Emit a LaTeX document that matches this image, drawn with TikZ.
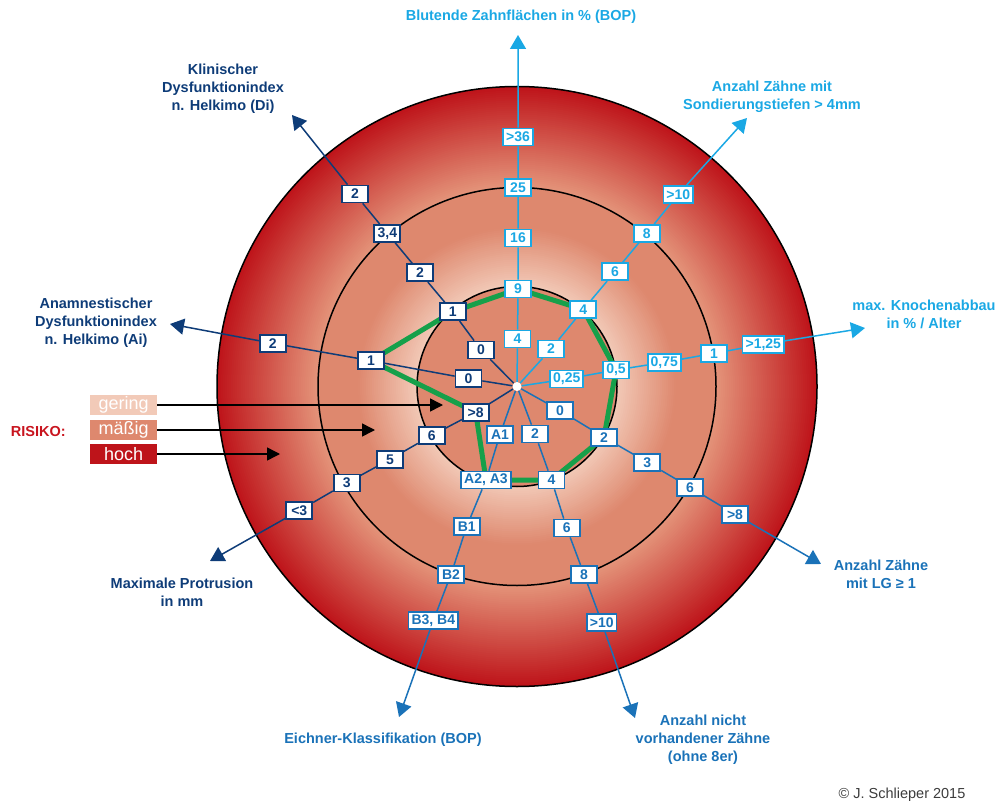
\documentclass[tikz,border=0pt]{standalone}
\usepackage{fontspec}
\setmainfont{Liberation Sans}
\usetikzlibrary{arrows.meta}
\definecolor{navy}{RGB}{14,60,120}
\definecolor{midblue}{RGB}{26,114,184}
\definecolor{cyanblue}{RGB}{26,168,228}
\definecolor{darkred}{RGB}{190,20,26}
\definecolor{salmon}{RGB}{222,136,110}
\definecolor{ringlight}{RGB}{228,148,122}
\definecolor{palepink}{RGB}{242,202,184}
\definecolor{riskgreen}{RGB}{22,160,74}
\definecolor{riskred}{RGB}{200,20,30}
\definecolor{copygray}{RGB}{60,60,60}
\pgfdeclarelayer{rings}
\pgfdeclarelayer{poly}
\pgfsetlayers{rings,poly,main}

\begin{document}
\begin{tikzpicture}[x=1pt,y=-1pt,
	box/.style={draw=#1,text=#1,fill=white,line width=1.7pt,font=\fontsize{14}{14}\selectfont\bfseries,minimum width=26pt,minimum height=17pt,inner xsep=3pt,inner ysep=1pt},
	axis/.style={draw=#1,line width=1.5pt,-{Triangle[length=14pt,width=16pt]}},
	title/.style={text=#1,font=\fontsize{14.5}{17.8}\selectfont\bfseries,align=center},
	risk/.style={fill=#1,text=white,font=\fontsize{18}{18}\selectfont,minimum width=67pt,minimum height=19.5pt,inner sep=0pt},
	riskarrow/.style={line width=1.5pt,-{Triangle[length=13pt,width=13pt]}}]
	\useasboundingbox (0,0) rectangle (1000,802);
	\coordinate (o) at (517,386.5);
	\begin{pgfonlayer}{rings}
		\foreach \r in {300,298,...,200}{
			\pgfmathtruncatemacro\p{\r-200}
			\fill[darkred!\p!ringlight] (o) circle[radius=\r pt];
		}
		\foreach \r in {199,197,...,101}{
			\pgfmathtruncatemacro\p{max(0,(160-\r)*5/3)}
			\fill[palepink!\p!salmon] (o) circle[radius=\r pt];
		}
		\fill[salmon] (o) circle[radius=100pt];
		\draw[line width=1.5pt] (o) circle[radius=300pt] (o) circle[radius=199pt] (o) circle[radius=100pt];
	\end{pgfonlayer}
	\node[circle,fill=white,inner sep=0pt,minimum size=9pt] (dot) at (o) {};

	% Blutende Zahnflaechen
	\node[box=cyanblue] (bop1) at (517.5,339) {4};
	\node[box=cyanblue] (bop2) at (518,289) {9};
	\node[box=cyanblue] (bop3) at (518,238) {16};
	\node[box=cyanblue] (bop4) at (518,187.5) {25};
	\node[box=cyanblue] (bop5) at (518,137) {>36};
	\coordinate (bopTip) at (518,35);
	\node[title=cyanblue] (bopT) at (521,17) {Blutende Zahnflächen in \% (BOP)};
	% Sondierungstiefen
	\node[box=cyanblue] (st1) at (551,349) {2};
	\node[box=cyanblue] (st2) at (583.3,309.5) {4};
	\node[box=cyanblue] (st3) at (615,271.7) {6};
	\node[box=cyanblue] (st4) at (646.7,233.3) {8};
	\node[box=cyanblue] (st5) at (678.3,194.3) {>10};
	\coordinate (stTip) at (747,118);
	\node[title=cyanblue] (stT) at (772,97) {Anzahl Zähne mit\\Sondierungstiefen > 4mm};
	% Knochenabbau
	\node[box=cyanblue] (ka1) at (566.7,379) {0,25};
	\node[box=cyanblue] (ka2) at (616,370) {0,5};
	\node[box=cyanblue] (ka3) at (664.3,362.3) {0,75};
	\node[box=cyanblue] (ka4) at (714,353.3) {1};
	\node[box=cyanblue] (ka5) at (763.3,344.3) {>1,25};
	\coordinate (kaTip) at (865,328);
	\node[title=cyanblue] (kaT) at (924,314) {max. Knochenabbau\\in \% / Alter};
	% Zaehne mit LG
	\node[box=midblue] (lg1) at (560,410.5) {0};
	\node[box=midblue] (lg2) at (604,437.3) {2};
	\node[box=midblue] (lg3) at (647.3,462.3) {3};
	\node[box=midblue] (lg4) at (690,487.3) {6};
	\node[box=midblue] (lg5) at (735,514.3) {>8};
	\coordinate (lgTip) at (821,564);
	\node[title=midblue] (lgT) at (881,574.5) {Anzahl Zähne\\mit LG ≥ 1};
	% nicht vorhandene Zaehne
	\node[box=midblue] (nv1) at (535,434) {2};
	\node[box=midblue] (nv2) at (551.5,480) {4};
	\node[box=midblue] (nv3) at (566.7,528) {6};
	\node[box=midblue] (nv4) at (584,574.3) {8};
	\node[box=midblue] (nv5) at (601.7,622.3) {>10};
	\coordinate (nvTip) at (635,718);
	\node[title=midblue] (nvT) at (703,739.5) {Anzahl nicht\\vorhandener Zähne\\(ohne 8er)};
	% Eichner
	\node[box=midblue] (ek1) at (500,434.5) {A1};
	\node[box=midblue] (ek2) at (486,480) {A2, A3};
	\node[box=midblue] (ek3) at (466.7,526.5) {B1};
	\node[box=midblue] (ek4) at (451,574.3) {B2};
	\node[box=midblue] (ek5) at (433.3,620.7) {B3, B4};
	\coordinate (ekTip) at (399,717);
	\node[title=midblue] (ekT) at (383,740) {Eichner-Klassifikation (BOP)};
	% Protrusion
	\node[box=navy] (mp1) at (475.7,412.3) {>8};
	\node[box=navy] (mp2) at (431.7,435.5) {6};
	\node[box=navy] (mp3) at (390,459.3) {5};
	\node[box=navy] (mp4) at (346.7,483) {3};
	\node[box=navy] (mp5) at (299.3,510.5) {<3};
	\coordinate (mpTip) at (210,561);
	\node[title=navy] (mpT) at (182,592) {Maximale Protrusion\\in mm};
	% Helkimo Ai
	\node[box=navy] (ai1) at (468.5,378.7) {0};
	\node[box=navy] (ai2) at (371,360.7) {1};
	\node[box=navy] (ai3) at (272.7,343.3) {2};
	\coordinate (aiTip) at (170,324);
	\node[title=navy] (aiT) at (96,323) {Anamnestischer\\Dysfunktionindex\\n. Helkimo (Ai)};
	% Helkimo Di
	\node[box=navy] (di1) at (481,350) {0};
	\node[box=navy] (di2) at (452.7,311.7) {1};
	\node[box=navy] (di3) at (420,272.7) {2};
	\node[box=navy] (di4) at (387.3,233.3) {3,4};
	\node[box=navy] (di5) at (355,194) {2};
	\coordinate (diTip) at (292,115);
	\node[title=navy] (diT) at (223,89) {Klinischer\\Dysfunktionindex\\n. Helkimo (Di)};

	\draw[axis=cyanblue] (dot) -- (bop1) -- (bop2) -- (bop3) -- (bop4) -- (bop5) -- (bopTip);
	\draw[axis=cyanblue] (dot) -- (st1) -- (st2) -- (st3) -- (st4) -- (st5) -- (stTip);
	\draw[axis=cyanblue] (dot) -- (ka1) -- (ka2) -- (ka3) -- (ka4) -- (ka5) -- (kaTip);
	\draw[axis=midblue] (dot) -- (lg1) -- (lg2) -- (lg3) -- (lg4) -- (lg5) -- (lgTip);
	\draw[axis=midblue] (dot) -- (nv1) -- (nv2) -- (nv3) -- (nv4) -- (nv5) -- (nvTip);
	\draw[axis=midblue] (dot) -- (ek1) -- (ek2) -- (ek3) -- (ek4) -- (ek5) -- (ekTip);
	\draw[axis=navy] (dot) -- (mp1) -- (mp2) -- (mp3) -- (mp4) -- (mp5) -- (mpTip);
	\draw[axis=navy] (dot) -- (ai1) -- (ai2) -- (ai3) -- (aiTip);
	\draw[axis=navy] (dot) -- (di1) -- (di2) -- (di3) -- (di4) -- (di5) -- (diTip);

	\begin{pgfonlayer}{poly}
		\draw[riskgreen,line width=5pt,line join=round] (bop2.center) -- (st2.center) -- (ka2.center) -- (lg2.center) -- (nv2.center) -- (ek2.center) -- (mp1.center) -- (ai2.center) -- (di2.center) -- cycle;
	\end{pgfonlayer}

	% Risiko
	\node[text=riskred,font=\fontsize{14.5}{14.5}\selectfont\bfseries] (risiko) at (38.3,431.7) {RISIKO:};
	\node[risk=palepink] (gering) at (123.7,405) {gering};
	\node[risk=salmon] (maessig) at (123.7,430) {mäßig};
	\node[risk=darkred] (hoch) at (123.7,454) {hoch};
	\coordinate (geringTip) at (443,405);
	\coordinate (maessigTip) at (375,430);
	\coordinate (hochTip) at (280,454);
	\draw[riskarrow] (gering) -- (geringTip);
	\draw[riskarrow] (maessig) -- (maessigTip);
	\draw[riskarrow] (hoch) -- (hochTip);

	\node[anchor=base,text=copygray,font=\fontsize{14.5}{14.5}\selectfont] (copy) at (902,798.5) {© J. Schlieper 2015};
\end{tikzpicture}
\end{document}
